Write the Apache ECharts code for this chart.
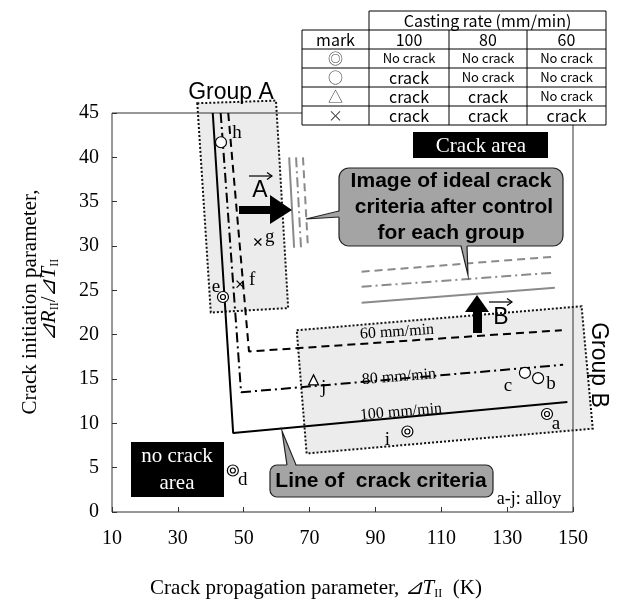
<!DOCTYPE html>
<html>
<head>
<meta charset="utf-8">
<script src="https://cdn.jsdelivr.net/npm/echarts@6/dist/echarts.min.js"></script>
<style>html,body{margin:0;background:#fff}#main{width:626px;height:600px}</style>
</head>
<body>
<div id="main"></div>
<script>
// axis ranges
var xTicks = [10, 30, 50, 70, 90, 110, 130, 150]
var yTicks = [0, 5, 10, 15, 20, 25, 30, 35, 40, 45]

// crack criteria lines, [ΔT_II, ΔR_II/ΔT_II]
var crit100 = [[40.6, 45], [46.8, 8.9], [148.3, 12.4]]
var crit80 = [[43.0, 45], [49.2, 13.5], [147.0, 16.6]]
var crit60 = [[45.3, 45], [51.6, 18.1], [146.6, 20.5]]

// image of ideal criteria after control
var idealASolid = [[63.8, 40.0], [65.3, 29.8]]
var idealADashDot = [[65.9, 40.0], [67.4, 29.8]]
var idealADashed = [[68.0, 40.0], [69.5, 29.8]]
var idealBDashed = [[85.8, 27.1], [144.5, 28.8]]
var idealBDashDot = [[85.8, 25.4], [144.5, 27.0]]
var idealBSolid = [[85.8, 23.6], [144.5, 25.3]]

// alloys by mark
var alloyDoubleCircle = [['a', 142.1, 11.05], ['d', 46.7, 4.68], ['e', 43.7, 24.25], ['i', 99.7, 9.08]]
var alloyCircle = [['b', 139.4, 15.1], ['c', 135.4, 15.7], ['h', 43.1, 41.7]]
var alloyTriangle = [['j', 71.2, 14.9]]
var alloyCross = [['f', 48.9, 25.7], ['g', 54.3, 30.45]]

// group areas
var groupABox = [[35.9, 46.1], [59.8, 46.4], [63.5, 23.0], [40.0, 22.5]]
var groupBBox = [[66.1, 20.5], [152.6, 23.2], [156.0, 9.4], [69.1, 6.6]]

// legend table
var rateLabels = ['100', '80', '60']
var markGlyphs = ['◎', '○', '△', '×']
var tableRows = [
  ['No crack', 'No crack', 'No crack'],
  ['crack', 'No crack', 'No crack'],
  ['crack', 'crack', 'No crack'],
  ['crack', 'crack', 'crack']
]

// where each alloy letter sits relative to its mark (px)
var labelOffset = {a: [9, 10], b: [13, 6], c: [-17, 13], d: [10, 10], e: [-7, -10],
  f: [12, -4], g: [12, -5], h: [16, -9], i: [-20, 9], j: [10, 8]}

var SERIF = '"Liberation Serif", "Times New Roman", serif'
var SANS = '"Liberation Sans", Arial, sans-serif'
var CJK = '"Noto Sans CJK JP", sans-serif'

var chart = echarts.init(document.getElementById('main'))

function pts(arr, withLabel) {
  return arr.map(function (p) {
    return {
      name: p[0],
      value: [p[1], p[2]],
      label: withLabel ? {show: true, formatter: p[0], offset: labelOffset[p[0]]} : {show: false}
    }
  })
}

function boxRender(poly) {
  return function (params, api) {
    var points = poly.map(function (p) { return api.coord(p) })
    return {
      type: 'polygon',
      shape: {points: points},
      style: {fill: '#ececec', stroke: '#111', lineWidth: 2, lineDash: [2, 2]}
    }
  }
}

function critLine(data, type, color) {
  return {
    type: 'line', data: data, symbol: 'none', silent: true, z: 3,
    lineStyle: {color: color, width: 2, type: type, cap: 'butt'}
  }
}

var pointLabel = {show: true, position: 'inside', color: '#000', fontSize: 19, fontFamily: SERIF}

// ---- graphic: table, boxes, arrows, texts
var g = []
function ln(x1, y1, x2, y2, w) {
  g.push({type: 'line', z: 21, shape: {x1: x1, y1: y1, x2: x2, y2: y2}, style: {stroke: '#000', lineWidth: w || 1}})
}
function txt(x, y, text, font, extra) {
  var st = {text: text, font: font, fill: '#000', align: 'center', verticalAlign: 'middle'}
  var el = {type: 'text', x: x, y: y, z: 22, style: st}
  if (extra) for (var k in extra) {
    if (k === 'style') { for (var s in extra.style) st[s] = extra.style[s] } else el[k] = extra[k]
  }
  g.push(el)
}

var tx = [302, 369, 449, 527, 606]
var ty = [11, 30, 49, 68, 87, 106, 125]
g.push({type: 'rect', z: 20, shape: {x: tx[1], y: ty[0], width: tx[4] - tx[1], height: ty[1] - ty[0]}, style: {fill: '#fff'}})
g.push({type: 'rect', z: 20, shape: {x: tx[0], y: ty[1], width: tx[4] - tx[0], height: ty[6] - ty[1]}, style: {fill: '#fff'}})
ln(tx[1], ty[0], tx[4], ty[0])
for (var r = 1; r < ty.length; r++) ln(tx[0], ty[r], tx[4], ty[r])
ln(tx[0], ty[1], tx[0], ty[6]); ln(tx[1], ty[0], tx[1], ty[6])
ln(tx[2], ty[1], tx[2], ty[6]); ln(tx[3], ty[1], tx[3], ty[6]); ln(tx[4], ty[0], tx[4], ty[6])
function colMid(c) { return (tx[c] + tx[c + 1]) / 2 }
function rowMid(r) { return (ty[r] + ty[r + 1]) / 2 }
txt((tx[1] + tx[4]) / 2, rowMid(0), 'Casting rate (mm/min)', '16px ' + CJK)
txt(colMid(0), rowMid(1), 'mark', '16px ' + CJK)
rateLabels.forEach(function (s, i) { txt(colMid(i + 1), rowMid(1), s, '16px ' + CJK) })
markGlyphs.forEach(function (m, r) {
  txt(colMid(0), rowMid(r + 2), m, '15px ' + CJK, {style: {fill: '#444'}})
  tableRows[r].forEach(function (s, c) {
    txt(colMid(c + 1), rowMid(r + 2), s, (s === 'crack' ? '16px ' : '13px ') + CJK)
  })
})

// black area labels
g.push({type: 'rect', z: 10, shape: {x: 413, y: 132, width: 135, height: 26}, style: {fill: '#000'}})
txt(481, 146, 'Crack area', '21px ' + SERIF, {style: {fill: '#fff'}})
g.push({type: 'rect', z: 10, shape: {x: 131, y: 442, width: 93, height: 55}, style: {fill: '#000'}})
txt(177, 470, 'no crack\narea', '21px ' + SERIF, {style: {fill: '#fff', lineHeight: 27}})

// callout: image of ideal criteria
g.push({type: 'rect', z: 10, shape: {x: 339, y: 168, width: 224, height: 78, r: 10}, style: {fill: '#a4a4a4', stroke: '#222', lineWidth: 1.2}})
g.push({type: 'polygon', z: 11, shape: {points: [[341, 211], [306, 219], [341, 217]]}, style: {fill: '#a4a4a4'}})
g.push({type: 'polyline', z: 11, shape: {points: [[339, 211], [306, 219], [339, 217]]}, style: {stroke: '#222', lineWidth: 1.2, fill: null}})
g.push({type: 'polygon', z: 11, shape: {points: [[461, 244], [468, 275], [467, 244]]}, style: {fill: '#a4a4a4'}})
g.push({type: 'polyline', z: 11, shape: {points: [[461, 246], [468, 275], [467, 246]]}, style: {stroke: '#222', lineWidth: 1.2, fill: null}})
txt(451, 207, 'Image of ideal crack\n criteria after control\nfor each group', 'bold 21px ' + SANS, {style: {lineHeight: 26}})

// callout: line of crack criteria
g.push({type: 'rect', z: 10, shape: {x: 270, y: 465, width: 223, height: 32, r: 7}, style: {fill: '#a4a4a4', stroke: '#222', lineWidth: 1.2}})
g.push({type: 'polygon', z: 11, shape: {points: [[287, 467], [282, 431], [296, 467]]}, style: {fill: '#a4a4a4'}})
g.push({type: 'polyline', z: 11, shape: {points: [[287, 465], [282, 431], [296, 465]]}, style: {stroke: '#222', lineWidth: 1.2, fill: null}})
txt(381, 481, 'Line of  crack criteria', 'bold 21px ' + SANS)

// thick arrows A and B
g.push({type: 'polygon', z: 10, shape: {points: [[239, 206], [270, 206], [270, 195], [292, 210], [270, 224], [270, 214], [239, 214]]}, style: {fill: '#000'}})
g.push({type: 'polygon', z: 10, shape: {points: [[473, 333], [473, 312], [465, 312], [477, 295], [489, 312], [482, 312], [482, 333]]}, style: {fill: '#000'}})
txt(260, 191, 'A', '23px ' + SANS)
g.push({type: 'polyline', z: 11, shape: {points: [[249, 176], [272, 176]]}, style: {stroke: '#000', lineWidth: 1.2, fill: null}})
g.push({type: 'polyline', z: 11, shape: {points: [[267, 172.5], [272, 176], [267, 179.5]]}, style: {stroke: '#000', lineWidth: 1.2, fill: null}})
txt(501, 318, 'B', '23px ' + SANS)
g.push({type: 'polyline', z: 11, shape: {points: [[489, 302], [512, 302]]}, style: {stroke: '#000', lineWidth: 1.2, fill: null}})
g.push({type: 'polyline', z: 11, shape: {points: [[507, 298.5], [512, 302], [507, 305.5]]}, style: {stroke: '#000', lineWidth: 1.2, fill: null}})

// group names
txt(231, 93, 'Group A', '23px ' + SANS)
txt(598, 365, 'Group B', '23px ' + SANS, {rotation: -Math.PI / 2})

// casting-rate labels on lines
txt(397, 332, '60 mm/min', '16px ' + SERIF, {rotation: 0.065})
txt(399, 377, '80 mm/min', '16px ' + SERIF, {rotation: 0.08})
txt(401, 412, '100 mm/min', '16px ' + SERIF, {rotation: 0.085})
txt(529, 499, 'a-j: alloy', '18px ' + SERIF)

// axis titles
txt(30, 302, 'Crack initiation parameter,', '21px ' + SERIF, {rotation: Math.PI / 2})
g.push({type: 'text', x: 49, y: 300, z: 22, rotation: Math.PI / 2, style: {
  text: '{i|⊿R}{s|II}{n|/}{i|⊿T}{s|II}', align: 'center', verticalAlign: 'middle',
  rich: {
    i: {fontStyle: 'italic', fontSize: 21, fontFamily: SERIF, lineHeight: 24, fill: '#000'},
    n: {fontSize: 21, fontFamily: SERIF, lineHeight: 24, fill: '#000'},
    s: {fontSize: 12, fontFamily: SERIF, lineHeight: 12, verticalAlign: 'bottom', fill: '#000'}
  }
}})
g.push({type: 'text', x: 316, y: 588, z: 22, style: {
  text: '{n|Crack propagation parameter, }{i|⊿T}{s|II}{n|  (K)}', align: 'center', verticalAlign: 'middle',
  rich: {
    i: {fontStyle: 'italic', fontSize: 21, fontFamily: SERIF, lineHeight: 24, fill: '#000'},
    n: {fontSize: 21, fontFamily: SERIF, lineHeight: 24, fill: '#000'},
    s: {fontSize: 12, fontFamily: SERIF, lineHeight: 12, verticalAlign: 'bottom', fill: '#000'}
  }
}})

var option = {
  animation: false,
  backgroundColor: '#fff',
  grid: {left: 112, top: 113, width: 461, height: 399, show: true, borderColor: '#333', borderWidth: 1, backgroundColor: 'transparent'},
  xAxis: {
    type: 'value', min: xTicks[0], max: xTicks[xTicks.length - 1], interval: 20,
    axisLine: {show: false}, splitLine: {show: false},
    axisTick: {inside: true, length: 5, lineStyle: {color: '#333'}},
    axisLabel: {fontSize: 20, fontFamily: SERIF, color: '#000', margin: 17}
  },
  yAxis: {
    type: 'value', min: yTicks[0], max: yTicks[yTicks.length - 1], interval: 5,
    axisLine: {show: false}, splitLine: {show: false},
    axisTick: {inside: true, length: 5, lineStyle: {color: '#333'}},
    axisLabel: {fontSize: 20, fontFamily: SERIF, color: '#000', margin: 13}
  },
  graphic: {elements: g},
  series: [
    {type: 'custom', z: -1, silent: true, renderItem: boxRender(groupABox), data: [groupABox[0]]},
    {type: 'custom', z: -1, silent: true, renderItem: boxRender(groupBBox), data: [groupBBox[0]]},
    critLine(crit100, 'solid', '#000'),
    critLine(crit80, [10, 4, 2, 4], '#000'),
    critLine(crit60, [8, 5], '#000'),
    critLine(idealASolid, 'solid', '#8a8a8a'),
    critLine(idealADashDot, [10, 4, 2, 4], '#8a8a8a'),
    critLine(idealADashed, [8, 5], '#8a8a8a'),
    critLine(idealBDashed, [8, 5], '#8a8a8a'),
    critLine(idealBDashDot, [10, 4, 2, 4], '#8a8a8a'),
    critLine(idealBSolid, 'solid', '#8a8a8a'),
    {type: 'scatter', z: 5, silent: true, symbol: 'circle', symbolSize: 11, data: pts(alloyDoubleCircle, true),
      itemStyle: {color: '#fff', borderColor: '#000', borderWidth: 1.2, opacity: 1}, label: pointLabel},
    {type: 'scatter', z: 6, silent: true, symbol: 'circle', symbolSize: 5, data: pts(alloyDoubleCircle, false),
      itemStyle: {color: '#fff', borderColor: '#000', borderWidth: 1.2, opacity: 1}},
    {type: 'scatter', z: 5, silent: true, symbol: 'circle', symbolSize: 11, data: pts(alloyCircle, true),
      itemStyle: {color: '#fff', borderColor: '#000', borderWidth: 1.2, opacity: 1}, label: pointLabel},
    {type: 'scatter', z: 5, silent: true, symbol: 'triangle', symbolSize: 10, data: pts(alloyTriangle, true),
      itemStyle: {color: '#fff', borderColor: '#000', borderWidth: 1.2, opacity: 1}, label: pointLabel},
    {type: 'scatter', z: 5, silent: true, symbol: 'path://M0,0L10,10M10,0L0,10', symbolSize: 7, data: pts(alloyCross, true),
      itemStyle: {color: 'none', borderColor: '#000', borderWidth: 1.2, opacity: 1}, label: pointLabel}
  ]
}
chart.setOption(option)
</script>
</body>
</html>
